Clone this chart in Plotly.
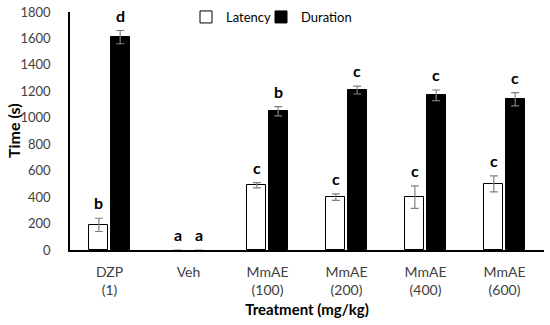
import plotly.graph_objects as go

categories = ["DZP<br>(1)", "Veh", "MmAE<br>(100)", "MmAE<br>(200)", "MmAE<br>(400)", "MmAE<br>(600)"]
latency = [190, 0, 490, 400, 400, 500]
latency_err = [50, 0, 20, 25, 85, 60]
duration = [1610, 0, 1050, 1210, 1170, 1140]
duration_err = [50, 0, 35, 30, 40, 50]
latency_letters = ["b", "a", "c", "c", "c", "c"]
duration_letters = ["d", "a", "b", "c", "c", "c"]

idx = list(range(len(categories)))
off = 0.135
bw = 0.24
font = "Lato, Open Sans, sans-serif"
outline = [1 if v > 0 else 0 for v in latency]
outline_d = [1 if v > 0 else 0 for v in duration]

W, H = 550, 325
L, T, PW, PH = 70, 12, 474, 238


def px_x(page_x):
    return (page_x - L) / PW


def px_y(page_y):
    return 1 - (page_y - T) / PH


fig = go.Figure()
fig.add_trace(go.Bar(
    x=[i - off for i in idx], y=latency, width=bw, name="Latency", legend="legend",
    marker=dict(color="white", line=dict(color="black", width=outline)),
    error_y=dict(type="data", array=latency_err, visible=True, color="#808080", thickness=1.2, width=4),
))
fig.add_trace(go.Bar(
    x=[i + off for i in idx], y=duration, width=bw, name="Duration", legend="legend2",
    marker=dict(color="black", line=dict(color="black", width=outline_d)),
    error_y=dict(type="data", array=duration_err, visible=True, color="#808080", thickness=1.2, width=4),
))

annotations = []
for i in idx:
    annotations.append(dict(x=i - off, y=latency[i] + latency_err[i], text="<b>%s</b>" % latency_letters[i],
                            showarrow=False, yanchor="bottom", yshift=4, xref="x", yref="y",
                            font=dict(size=16, color="black", family=font)))
    annotations.append(dict(x=i + off, y=duration[i] + duration_err[i], text="<b>%s</b>" % duration_letters[i],
                            showarrow=False, yanchor="bottom", yshift=4, xref="x", yref="y",
                            font=dict(size=16, color="black", family=font)))
annotations.append(dict(x=px_x(13), y=0.5, xref="paper", yref="paper", text="<b>Time (s)</b>",
                        textangle=-90, showarrow=False, xanchor="center", yanchor="middle",
                        font=dict(size=16, color="black", family=font)))

leg_common = dict(orientation="h", xanchor="left", yanchor="middle", y=px_y(17),
                  font=dict(size=13, color="black", family=font), itemwidth=30,
                  bgcolor="rgba(0,0,0,0)")

fig.update_layout(
    width=W, height=H,
    margin=dict(l=L, r=W - L - PW, t=T, b=H - T - PH, autoexpand=False),
    paper_bgcolor="white", plot_bgcolor="white",
    font=dict(family=font, size=14, color="#404040"),
    showlegend=True,
    legend=dict(x=px_x(186), **leg_common),
    legend2=dict(x=px_x(261), **leg_common),
    annotations=annotations,
    bargap=0,
)
fig.update_xaxes(
    tickmode="array", tickvals=idx, ticktext=categories, range=[-0.5, 5.5],
    showline=True, linecolor="black", linewidth=1.5, ticks="", showgrid=False, automargin=False,
    title=dict(text="<b>Treatment (mg/kg)</b>", font=dict(size=15, color="black"), standoff=8),
    tickfont=dict(size=14, color="#404040"), ticklabelstandoff=8,
)
fig.update_yaxes(
    range=[0, 1800], tickvals=list(range(0, 1801, 200)),
    showline=True, linecolor="black", linewidth=1.5, ticks="", showgrid=False, zeroline=False, automargin=False,
    tickfont=dict(size=13, color="#404040"), ticklabelstandoff=15, ticklabeloverflow="allow",
)
fig.write_html("out.html", config={"displayModeBar": False},
               post_script="document.body.style.margin='0';")
